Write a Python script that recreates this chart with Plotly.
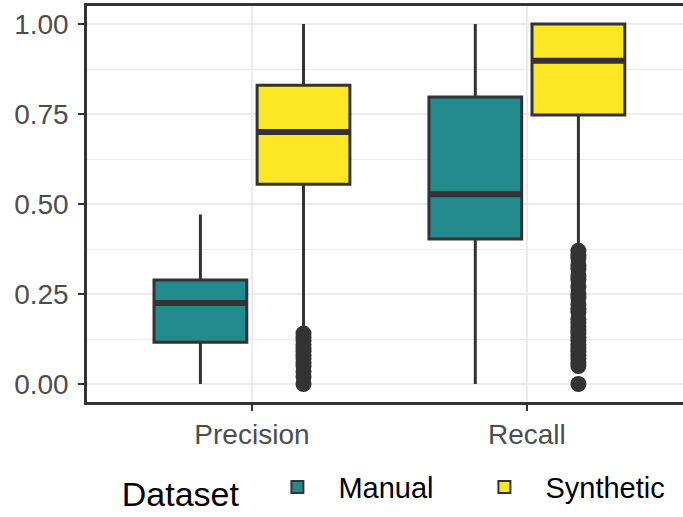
import plotly.graph_objects as go

# ---- data ----
metrics = ["Precision", "Recall"]
datasets = ["Manual", "Synthetic"]
colors = {"Manual": "#238A8D", "Synthetic": "#FDE725"}

manual_q1 = [0.116, 0.403]
manual_median = [0.225, 0.527]
manual_q3 = [0.289, 0.797]
manual_low = [0.0, 0.0]
manual_high = [0.471, 1.0]

synthetic_q1 = [0.555, 0.747]
synthetic_median = [0.700, 0.898]
synthetic_q3 = [0.830, 1.0]
synthetic_low = [0.15, 0.385]
synthetic_high = [1.0, 1.0]

synthetic_precision_outliers = [0.0, 0.02, 0.035, 0.05, 0.06, 0.07, 0.08, 0.09,
                                0.10, 0.11, 0.12, 0.13, 0.14]
synthetic_recall_outliers = [0.0, 0.05, 0.06, 0.07, 0.08, 0.09, 0.10, 0.11, 0.12,
                             0.13, 0.14, 0.15, 0.16, 0.17, 0.18, 0.20, 0.21, 0.22,
                             0.24, 0.25, 0.27, 0.29, 0.30, 0.32, 0.33, 0.35, 0.36, 0.37]

stats = {
    "Manual": dict(q1=manual_q1, median=manual_median, q3=manual_q3,
                   lowerfence=manual_low, upperfence=manual_high),
    "Synthetic": dict(q1=synthetic_q1, median=synthetic_median, q3=synthetic_q3,
                      lowerfence=synthetic_low, upperfence=synthetic_high),
}
outliers = {"Synthetic": [synthetic_precision_outliers, synthetic_recall_outliers]}

# ---- layout helpers ----
dodge = {"Manual": -0.1875, "Synthetic": 0.1875}
box_w = 0.3375
dark = "#333333"
FONT = "Liberation Sans"

fig = go.Figure()
for ds in datasets:
    xs = [i + 1 + dodge[ds] for i in range(len(metrics))]
    s = stats[ds]
    fig.add_trace(go.Box(
        x=xs, q1=s["q1"], median=s["median"], q3=s["q3"],
        lowerfence=s["lowerfence"], upperfence=s["upperfence"],
        width=box_w, name=ds, fillcolor=colors[ds],
        line=dict(color=dark, width=3), whiskerwidth=0,
        boxpoints=False, hoverinfo="skip", showlegend=True,
    ))
    # thick median bar as in ggplot
    fig.add_trace(go.Box(
        x=xs, q1=s["median"], median=s["median"], q3=s["median"],
        lowerfence=s["median"], upperfence=s["median"],
        width=box_w, name=ds + " median", fillcolor=dark,
        line=dict(color=dark, width=6), whiskerwidth=0,
        boxpoints=False, hoverinfo="skip", showlegend=False,
    ))

for ds, lists in outliers.items():
    for i, vals in enumerate(lists):
        fig.add_trace(go.Scatter(
            x=[i + 1 + dodge[ds]] * len(vals), y=vals, mode="markers",
            marker=dict(color=dark, size=16, line=dict(width=0)),
            showlegend=False, hoverinfo="skip",
        ))

grid = "#EBEBEB"
fig.update_layout(
    width=683, height=517,
    margin=dict(l=87, r=0, t=6, b=112),
    paper_bgcolor="white", plot_bgcolor="white",
    font=dict(family=FONT, color="black"),
    boxmode="overlay",
    legend=dict(
        orientation="h", x=0.055, xanchor="left", y=-0.22, yanchor="middle",
        title=dict(text="Dataset ", font=dict(size=34, color="black"), side="left"),
        font=dict(size=29, color="black"),
        itemsizing="constant", traceorder="normal", itemwidth=72,
        entrywidth=120, entrywidthmode="pixels",
    ),
    xaxis=dict(
        range=[0.4, 2.568], tickvals=[1, 2], ticktext=metrics,
        showgrid=True, gridcolor=grid, gridwidth=2, zeroline=False,
        showline=True, linecolor=dark, linewidth=2.5, mirror=True,
        ticks="outside", ticklen=6, tickwidth=2, tickcolor=dark,
        tickfont=dict(size=28, color="#4D4D4D", family=FONT),
    ),
    yaxis=dict(
        range=[-0.05, 1.05], tickvals=[0, 0.25, 0.5, 0.75, 1.0],
        ticktext=["0.00", "0.25", "0.50", "0.75", "1.00"],
        showgrid=True, gridcolor=grid, gridwidth=2, zeroline=False,
        minor=dict(tickvals=[0.125, 0.375, 0.625, 0.875], showgrid=True,
                   gridcolor=grid, gridwidth=1, ticks=""),
        showline=True, linecolor=dark, linewidth=2.5, mirror=False,
        ticks="outside", ticklen=6, tickwidth=2, tickcolor=dark,
        tickfont=dict(size=28, color="#4D4D4D", family=FONT),
        ticklabelstandoff=4,
    ),
)

fig.write_html(
    "out.html",
    config={"displayModeBar": False},
    post_script="document.body.style.margin='0';document.body.style.overflow='hidden';",
)
